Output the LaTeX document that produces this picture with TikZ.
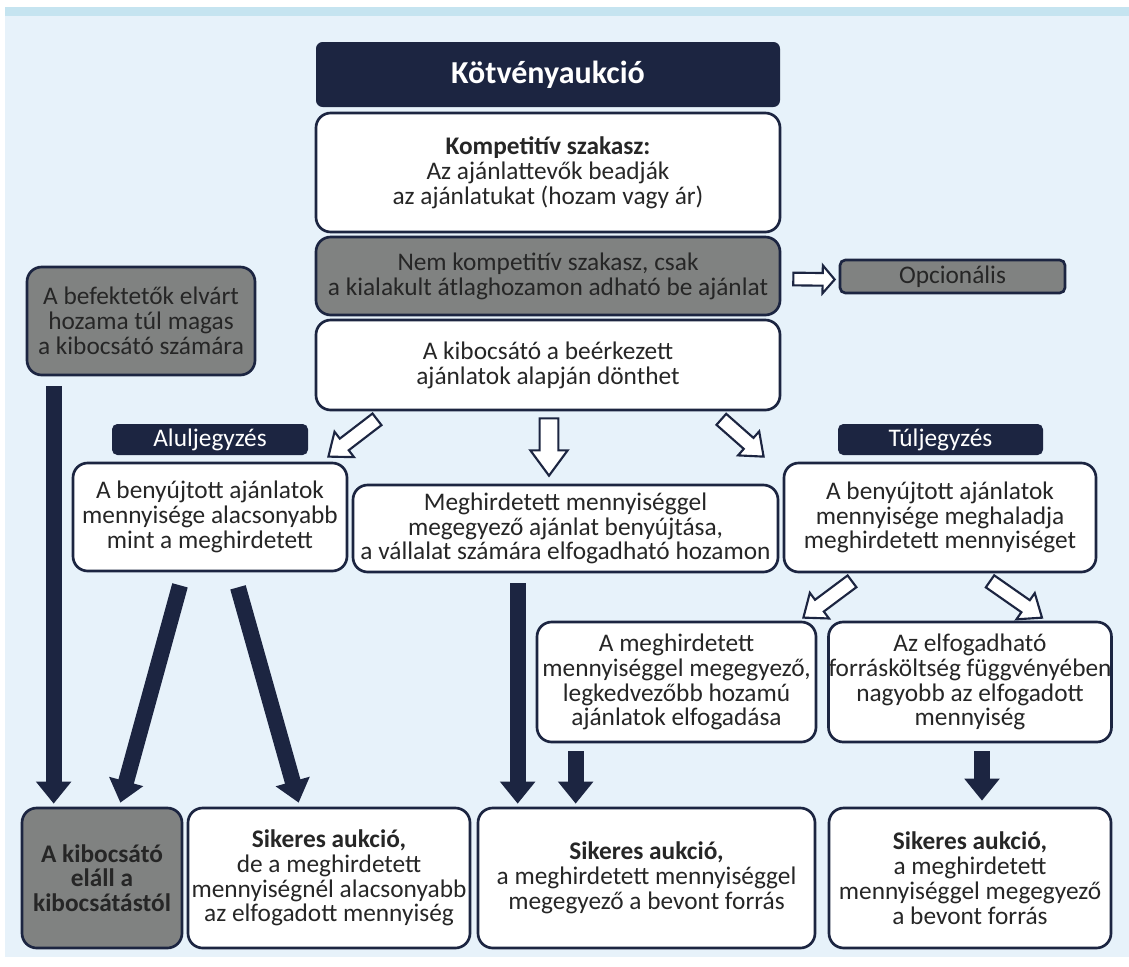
\documentclass[tikz,border=0pt]{standalone}
\usepackage{fontspec}
\setmainfont{Carlito}
\usepackage{tikz}
\usetikzlibrary{arrows.meta,calc}
\definecolor{SotetKek}{RGB}{28,37,65}
\definecolor{Szurke}{RGB}{128,130,129}
\definecolor{HatterKek}{RGB}{231,242,250}
\definecolor{SavKek}{RGB}{197,228,240}
\newcommand{\betu}{\fontsize{19}{18.6}\selectfont\lineskiplimit=-\maxdimen}
% ures (feher) nyil: kezdo pont, vegpont, szar, fej, fejhossz (pt)
\newcommand{\uresnyil}[5]{%
  \draw[line width=1.6pt,draw=SotetKek,fill=white,line join=miter]
    let \p1=($(#2)-(#1)$), \p2=(#1), \n1={atan2(\y1,\x1)}, \n2={veclen(\x1,\y1)} in
    [shift={(\p2)},rotate=\n1]
    (0pt,{#3/2*1pt}) -- ({(\n2-#5)*1pt},{#3/2*1pt}) -- ({(\n2-#5)*1pt},{#4/2*1pt})
    -- ({\n2*1pt},0pt) -- ({(\n2-#5)*1pt},{-#4/2*1pt}) -- ({(\n2-#5)*1pt},{-#3/2*1pt})
    -- (0pt,{-#3/2*1pt}) -- cycle;}

\begin{document}
\begin{tikzpicture}[x=0.75pt,y=-0.75pt,>=Latex,
  meret/.style 2 args={minimum width=#1*0.75pt,minimum height=#2*0.75pt},
  doboz/.style={draw=SotetKek,line width=2pt,rounded corners=11pt,fill=white,
    align=center,inner sep=0pt,font=\betu,text=black!85},
  szurkedoboz/.style={doboz,fill=Szurke},
  cimke/.style={fill=SotetKek,rounded corners=4pt,inner sep=0pt,text=white,font=\betu},
  teli/.style={line width=12pt,SotetKek,-{Triangle[width=25.5pt,length=16.5pt]}}]
  \useasboundingbox (0,0) rectangle (1129,967);
  \fill[white] (0,0) rectangle (1129,967);
  \fill[HatterKek] (5,16) rectangle (1129,957);
  \fill[SavKek] (5,7) rectangle (1129,16);

  \node[cimke,meret={464}{65},rounded corners=5pt,font=\fontsize{24}{28}\selectfont\bfseries]
    (cim) at (548,74.5) {Kötvényaukció};
  \node[doboz,meret={464}{119}] (komp) at (548,172.5)
    {\textbf{Kompetitív szakasz:}\\Az ajánlattevők beadják\\az ajánlatukat (hozam vagy ár)};
  \node[szurkedoboz,meret={464}{78}] (nemkomp) at (548,276)
    {Nem kompetitív szakasz, csak\\a kialakult átlaghozamon adható be ajánlat};
  \node[szurkedoboz,meret={225}{33},rounded corners=4pt] (opc) at (952.5,276.5) {Opcionális};
  \node[doboz,meret={464}{90}] (kib) at (548,365)
    {A kibocsátó a beérkezett\\ajánlatok alapján dönthet};
  \node[szurkedoboz,meret={228}{108}] (befekt) at (141,321)
    {A befektetők elvárt\\hozama túl magas\\a kibocsátó számára};

  \node[cimke,meret={196}{31}] (alul) at (210,439.5) {Aluljegyzés};
  \node[cimke,meret={205}{31}] (tul) at (940.5,439.5) {Túljegyzés};

  \node[doboz,meret={274}{108}] (alulbox) at (210,517)
    {A benyújtott ajánlatok\\mennyisége alacsonyabb\\mint a meghirdetett};
  \node[doboz,meret={425}{87}] (midbox) at (565.5,528.5)
    {Meghirdetett mennyiséggel\\megegyező ajánlat benyújtása,\\a vállalat számára elfogadható hozamon};
  \node[doboz,meret={312}{109}] (tulbox) at (940,517.5)
    {A benyújtott ajánlatok\\mennyisége meghaladja\\meghirdetett mennyiséget};

  \node[doboz,meret={279}{120}] (meghird) at (676.5,682)
    {A meghirdetett\\mennyiséggel megegyező,\\legkedvezőbb hozamú\\ajánlatok elfogadása};
  \node[doboz,meret={282}{120}] (elfog) at (970,682)
    {Az elfogadható\\forrásköltség függvényében\\nagyobb az elfogadott\\mennyiség};

  \node[szurkedoboz,meret={160}{140}] (elall) at (102,878)
    {\textbf{A kibocsátó}\\\textbf{eláll a}\\\textbf{kibocsátástól}};
  \node[doboz,meret={282}{140}] (sik1) at (329,878)
    {\textbf{Sikeres aukció,}\\de a meghirdetett\\mennyiségnél alacsonyabb\\az elfogadott mennyiség};
  \node[doboz,meret={337}{140}] (sik2) at (646.5,878)
    {\textbf{Sikeres aukció,}\\a meghirdetett mennyiséggel\\megegyező a bevont forrás};
  \node[doboz,meret={282}{140}] (sik3) at (970,878)
    {\textbf{Sikeres aukció,}\\a meghirdetett\\mennyiséggel megegyező\\a bevont forrás};

  % ures nyilak
  \uresnyil{$(nemkomp.east)+(12,3)$}{$(opc.west)+(-4,3)$}{9.5}{21}{9}
  \uresnyil{$(kib.south)+(-171,8)$}{$(alulbox.north east)+(-20,-5)$}{11}{24}{15}
  \uresnyil{$(kib.south)+(1,7)$}{$(midbox.north -| kib.south)+(1,-8)$}{14}{28}{19}
  \uresnyil{$(kib.south east)+(-60,8)$}{$(tulbox.north west)+(-19,-5)$}{11}{24}{15}
  \uresnyil{$(tulbox.south)+(-88,8)$}{$(meghird.north east)+(-14,-3)$}{11}{24}{15}
  \uresnyil{$(tulbox.south)+(50,8)$}{$(elfog.north)+(72,-3)$}{11}{24}{15}

  % teli nyilak
  \draw[teli] ($(befekt.south west)+(28,10)$) -- ($(elall.north west)+(33,-3)$);
  \draw[teli] ($(alulbox.south)+(-30,13)$) -- ($(elall.north east)+(-63,-4)$);
  \draw[teli] ($(alulbox.south)+(28,15)$) -- ($(sik1.north west)+(112,-4)$);
  \draw[teli] ($(midbox.south west)+(166,10)$) -- ($(sik2.north west)+(41,-3)$);
  \draw[teli] ($(meghird.south west)+(40,8)$) -- ($(sik2.north west)+(99,-3)$);
  \draw[teli] ($(elfog.south)+(12,8)$) -- ($(sik3.north)+(12,-6)$);
\end{tikzpicture}
\end{document}
